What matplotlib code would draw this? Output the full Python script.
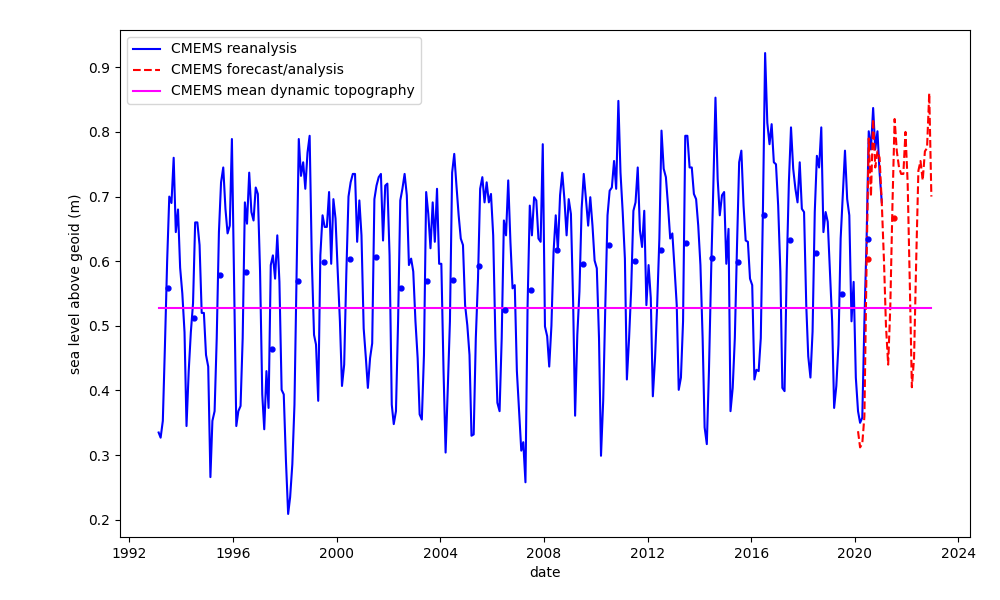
import matplotlib
matplotlib.use("Agg")
import matplotlib.pyplot as plt
import numpy as np
import pandas as pd

# Monthly sea level from the CMEMS reanalysis, Jan 1993 - Dec 2020 (m above geoid)
reanalysis_sl = [
    0.335, 0.327, 0.353, 0.470, 0.600, 0.700, 0.690, 0.760, 0.645, 0.680, 0.590, 0.550,  # 1993
    0.490, 0.345, 0.430, 0.490, 0.535, 0.660, 0.660, 0.625, 0.520, 0.520, 0.455, 0.437,  # 1994
    0.266, 0.353, 0.368, 0.481, 0.645, 0.722, 0.745, 0.681, 0.643, 0.655, 0.789, 0.570,  # 1995
    0.345, 0.368, 0.376, 0.481, 0.691, 0.658, 0.737, 0.676, 0.663, 0.714, 0.704, 0.584,  # 1996
    0.394, 0.340, 0.430, 0.373, 0.594, 0.609, 0.573, 0.640, 0.568, 0.401, 0.394, 0.291,  # 1997
    0.209, 0.235, 0.286, 0.378, 0.584, 0.789, 0.732, 0.753, 0.712, 0.768, 0.794, 0.600,  # 1998
    0.486, 0.471, 0.384, 0.609, 0.671, 0.653, 0.653, 0.707, 0.596, 0.696, 0.666, 0.584,  # 1999
    0.507, 0.407, 0.440, 0.580, 0.700, 0.722, 0.735, 0.735, 0.630, 0.694, 0.640, 0.496,  # 2000
    0.450, 0.404, 0.450, 0.473, 0.696, 0.717, 0.730, 0.735, 0.632, 0.717, 0.720, 0.609,  # 2001
    0.378, 0.348, 0.368, 0.507, 0.694, 0.712, 0.735, 0.702, 0.594, 0.604, 0.584, 0.507,  # 2002
    0.450, 0.363, 0.355, 0.455, 0.707, 0.673, 0.620, 0.691, 0.630, 0.712, 0.596, 0.596,  # 2003
    0.430, 0.304, 0.404, 0.507, 0.737, 0.766, 0.717, 0.671, 0.635, 0.625, 0.532, 0.501,  # 2004
    0.455, 0.330, 0.332, 0.481, 0.573, 0.712, 0.730, 0.691, 0.722, 0.691, 0.704, 0.640,  # 2005
    0.481, 0.381, 0.368, 0.481, 0.663, 0.640, 0.725, 0.630, 0.558, 0.563, 0.430, 0.368,  # 2006
    0.307, 0.320, 0.258, 0.532, 0.686, 0.640, 0.699, 0.694, 0.635, 0.630, 0.781, 0.499,  # 2007
    0.484, 0.437, 0.500, 0.614, 0.671, 0.617, 0.702, 0.737, 0.696, 0.640, 0.696, 0.673,  # 2008
    0.537, 0.361, 0.486, 0.553, 0.681, 0.735, 0.696, 0.655, 0.699, 0.655, 0.601, 0.589,  # 2009
    0.481, 0.299, 0.384, 0.532, 0.671, 0.709, 0.714, 0.755, 0.712, 0.848, 0.737, 0.676,  # 2010
    0.604, 0.417, 0.481, 0.558, 0.678, 0.691, 0.745, 0.648, 0.622, 0.678, 0.532, 0.594,  # 2011
    0.543, 0.391, 0.450, 0.532, 0.635, 0.802, 0.743, 0.730, 0.686, 0.635, 0.643, 0.589,  # 2012
    0.532, 0.401, 0.420, 0.507, 0.794, 0.794, 0.745, 0.745, 0.704, 0.696, 0.655, 0.594,  # 2013
    0.481, 0.343, 0.317, 0.430, 0.584, 0.712, 0.853, 0.727, 0.671, 0.702, 0.707, 0.596,  # 2014
    0.650, 0.368, 0.404, 0.481, 0.625, 0.753, 0.771, 0.686, 0.632, 0.630, 0.573, 0.563,  # 2015
    0.417, 0.432, 0.430, 0.481, 0.686, 0.922, 0.814, 0.781, 0.812, 0.753, 0.750, 0.686,  # 2016
    0.584, 0.404, 0.399, 0.584, 0.722, 0.807, 0.743, 0.712, 0.691, 0.753, 0.681, 0.676,  # 2017
    0.532, 0.453, 0.420, 0.491, 0.676, 0.763, 0.745, 0.807, 0.645, 0.676, 0.661, 0.584,  # 2018
    0.507, 0.373, 0.407, 0.471, 0.635, 0.702, 0.771, 0.696, 0.671, 0.507, 0.568, 0.420,  # 2019
    0.368, 0.350, 0.358, 0.507, 0.635, 0.801, 0.773, 0.837, 0.773, 0.801, 0.737, 0.691,  # 2020
]
reanalysis_start = "1993-01-15"

# Monthly sea level from the CMEMS forecast/analysis, Jan 2020 - Nov 2022
forecast_sl = [
    0.337, 0.312, 0.318, 0.360, 0.600, 0.790, 0.700, 0.820, 0.745, 0.770, 0.760, 0.690,  # 2020
    0.600, 0.500, 0.440, 0.530, 0.690, 0.820, 0.770, 0.745, 0.735, 0.735, 0.800, 0.720,  # 2021
    0.560, 0.405, 0.450, 0.600, 0.740, 0.755, 0.725, 0.770, 0.775, 0.860, 0.700,         # 2022
]
forecast_start = "2020-01-15"

# Annual means (plotted at mid-year)
reanalysis_years = list(range(1993, 2021))
reanalysis_annual = [
    0.558, 0.512, 0.579, 0.583, 0.464, 0.570, 0.598, 0.603, 0.607, 0.559,
    0.570, 0.571, 0.593, 0.524, 0.556, 0.618, 0.596, 0.625, 0.600, 0.618,
    0.628, 0.605, 0.598, 0.672, 0.633, 0.612, 0.550, 0.635,
]
forecast_years = [2020, 2021]
forecast_annual = [0.603, 0.667]

mdt = 0.528  # mean dynamic topography

rea_dates = pd.date_range(reanalysis_start, periods=len(reanalysis_sl), freq="MS") + pd.Timedelta(days=14)
fc_dates = pd.date_range(forecast_start, periods=len(forecast_sl), freq="MS") + pd.Timedelta(days=14)
rea_mid = pd.to_datetime([f"{y}-07-01" for y in reanalysis_years])
fc_mid = pd.to_datetime([f"{y}-07-01" for y in forecast_years])

fig, ax = plt.subplots(figsize=(10, 6), dpi=100)
ax.plot(rea_dates, reanalysis_sl, color="blue", label="CMEMS reanalysis")
ax.plot(fc_dates, forecast_sl, color="red", linestyle="--", label="CMEMS forecast/analysis")
ax.plot([rea_dates[0], fc_dates[-1]], [mdt, mdt], color="magenta",
        label="CMEMS mean dynamic topography")
ax.plot(rea_mid, reanalysis_annual, "o", color="blue", markersize=3.5)
ax.plot(fc_mid, forecast_annual, "o", color="red", markersize=3.5)

ax.set_xlabel("date")
ax.set_ylabel("sea level above geoid (m)")
ax.legend(loc="upper left")
fig.subplots_adjust(left=0.12, right=0.97, top=0.95, bottom=0.105)
fig.savefig("out.png", dpi=100)
